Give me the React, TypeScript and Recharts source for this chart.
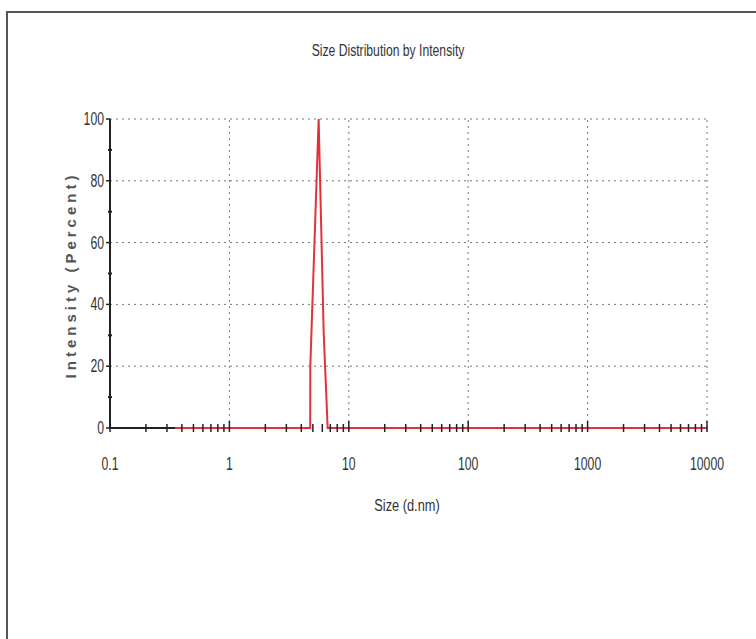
import React from 'react'
import { LineChart, Line, XAxis, YAxis, ReferenceLine } from 'recharts'

// size distribution (d.nm) vs intensity (%)
const sizes = [0.35, 4.75, 4.76, 5.59, 6.16, 6.65, 10000]
const intensity = [0, 0, 20, 100, 31, 0, 0]

const decades = [0.1, 1, 10, 100, 1000, 10000]
const decadeLabels = ['0.1', '1', '10', '100', '1000', '10000']
const minorSteps = [2, 3, 4, 5, 6, 7, 8, 9]
const yTicks = [0, 10, 20, 30, 40, 50, 60, 70, 80, 90, 100]
const yGrid = [20, 40, 60, 80, 100]

const sans = "'Liberation Sans', Arial, sans-serif"
const squeeze = 0.68

const data = sizes.map((s, i) => ({ size: s, intensity: intensity[i] }))

// all log ticks: decades plus the 2..9 steps inside each decade
const xTicks: number[] = []
decades.forEach((d, i) => {
  xTicks.push(d)
  if (i < decades.length - 1) minorSteps.forEach(m => xTicks.push(+(d * m).toPrecision(3)))
})

function XTick(props: any) {
  const { x, y, payload } = props
  const idx = decades.indexOf(payload.value)
  if (idx < 0) {
    return <line x1={x} x2={x} y1={y - 4} y2={y + 4} stroke="#222" strokeWidth={1.5} />
  }
  return (
    <g>
      <line x1={x} x2={x} y1={y - 7} y2={y + 4} stroke="#222" strokeWidth={1.5} />
      <text transform={`translate(${x},${y + 42}) scale(${squeeze},1)`} textAnchor="middle"
        fontSize={18} fill="#333" fontFamily={sans}>
        {decadeLabels[idx]}
      </text>
    </g>
  )
}

function YTick(props: any) {
  const { x, y, payload } = props
  if (payload.value % 20 !== 0) {
    return <line x1={x - 2} x2={x + 2} y1={y} y2={y} stroke="#222" strokeWidth={2} />
  }
  return (
    <g>
      <line x1={x - 4} x2={x} y1={y} y2={y} stroke="#222" strokeWidth={1.5} />
      <text transform={`translate(${x - 6},${y + 6}) scale(${squeeze},1)`} textAnchor="end"
        fontSize={18} fill="#333" fontFamily={sans}>
        {payload.value}
      </text>
    </g>
  )
}

export default function App() {
  return (
    <div style={{ position: 'absolute', left: 0, top: 0, width: 756, height: 639, overflow: 'hidden', background: '#fff' }}>
      {/* frame */}
      <div style={{
        position: 'absolute', left: 6, top: 11, width: 800, height: 626,
        borderTop: '2px solid #555', borderLeft: '2px solid #555', borderBottom: '1px solid #ddd'
      }} />

      {/* Title */}
      <div style={{
        position: 'absolute', left: 388, top: 51, transform: `translate(-50%, -50%) scale(0.76, 1)`,
        fontFamily: sans, fontSize: 16, color: '#333', whiteSpace: 'nowrap'
      }}>
        Size Distribution by Intensity
      </div>

      {/* Y axis label */}
      <div style={{
        position: 'absolute', left: 70, top: 275, transform: 'translate(-50%, -50%) rotate(-90deg)',
        fontFamily: sans, fontSize: 15, fontWeight: 600, letterSpacing: 4, color: '#555', whiteSpace: 'nowrap'
      }}>
        Intensity (Percent)
      </div>

      {/* X axis label */}
      <div style={{
        position: 'absolute', left: 407, top: 506, transform: 'translate(-50%, -50%) scale(0.8, 1)',
        fontFamily: sans, fontSize: 16, color: '#333', whiteSpace: 'nowrap'
      }}>
        Size (d.nm)
      </div>

      <div style={{ position: 'absolute', left: 0, top: 0 }}>
        <LineChart width={756} height={639} data={data} margin={{ top: 119, right: 49, left: 50, bottom: 171 }}>
          {yGrid.map(v => (
            <ReferenceLine key={`h${v}`} y={v} stroke="#777" strokeDasharray="2 4" />
          ))}
          {decades.slice(1).map(v => (
            <ReferenceLine key={`v${v}`} x={v} stroke="#777" strokeDasharray="2 4" />
          ))}
          {/* black stretch of the baseline left of the measured range */}
          <ReferenceLine segment={[{ x: 0.1, y: 0 }, { x: sizes[0], y: 0 }]} stroke="#222" strokeWidth={2} />
          <XAxis
            dataKey="size"
            type="number"
            scale="log"
            domain={[0.1, 10000]}
            allowDataOverflow
            ticks={xTicks}
            interval={0}
            tick={<XTick />}
            tickSize={0}
            tickMargin={0}
            tickLine={false}
            height={40}
            axisLine={false}
          />
          <YAxis
            type="number"
            domain={[0, 100]}
            ticks={yTicks}
            interval={0}
            tick={<YTick />}
            tickSize={0}
            tickMargin={0}
            tickLine={false}
            width={60}
            axisLine={{ stroke: '#222', strokeWidth: 2 }}
          />
          <Line
            type="linear"
            dataKey="intensity"
            stroke="#e3303c"
            strokeWidth={2}
            dot={false}
            isAnimationActive={false}
          />
        </LineChart>
      </div>
    </div>
  )
}
